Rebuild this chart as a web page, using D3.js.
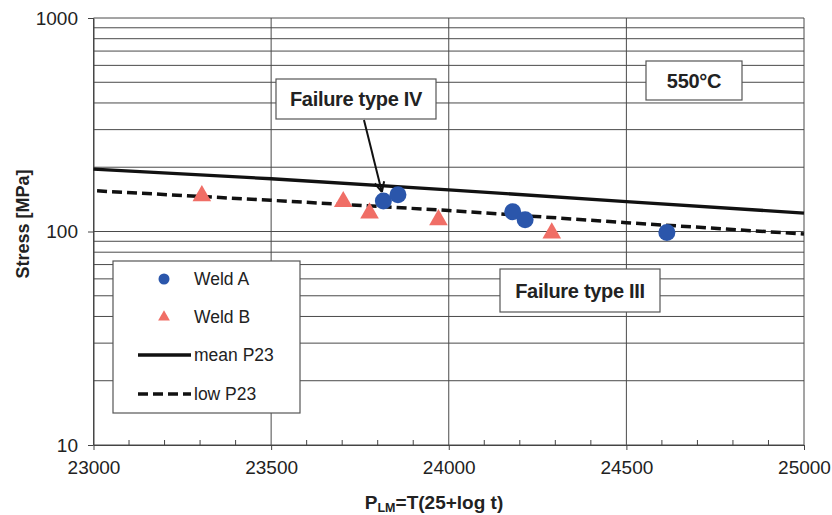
<!DOCTYPE html>
<html>
<head>
<meta charset="utf-8">
<script src="https://cdn.jsdelivr.net/npm/d3@7"></script>
<style>
  body { margin: 0; background: #fff; }
  svg { font-family: "Liberation Sans", Arial, sans-serif; }
  .grid line { stroke: #4a4a4a; stroke-width: 1; }
  .tick text { fill: #222; font-size: 19px; }
</style>
</head>
<body>
<div id="chart"></div>
<script>
// values
const weldA_plm = [23816, 23857, 24180, 24215, 24614]
const weldA_stress = [139, 148.5, 123.6, 113.5, 99]
const weldB_plm = [23305, 23703, 23777, 23971, 24290]
const weldB_stress = [147, 138, 122, 113.5, 98.3]
const line_plm = [23000, 23500, 24000, 24500, 25000]
const mean_p23 = [196, 176.6, 156.8, 138, 122]
const low_plm = [23010, 23500, 24000, 24500, 25000]
const low_p23 = [155, 140, 125.4, 110, 97.3]
const x_ticks = [23000, 23500, 24000, 24500, 25000]
const y_ticks = [10, 100, 1000]

const margin = {top: 18, right: 28, bottom: 70, left: 93.5}
const W = 832, H = 515
let width = W - margin.left - margin.right,
    height = H - margin.top - margin.bottom;

let root = d3.select("#chart")
    .append("svg")
    .attr("width", W)
    .attr("height", H);
let svg = root.append("g")
    .attr("transform", "translate(" + margin.left + "," + margin.top + ")");

let x = d3.scaleLinear().domain([23000, 25000]).range([0, width]);
let y = d3.scaleLog().domain([10, 1000]).range([height, 0]);

// horizontal grid at every log step
let yGrid = [];
[10, 100].forEach(function(d) { for (let k = 1; k <= 9; k++) yGrid.push(d * k) });
yGrid.push(1000);
svg.append("g").attr("class", "grid")
    .selectAll("line").data(yGrid).enter().append("line")
    .attr("x1", 0).attr("x2", width)
    .attr("y1", d => y(d)).attr("y2", d => y(d));

// vertical grid at major x ticks
svg.append("g").attr("class", "grid")
    .selectAll("line").data(x_ticks).enter().append("line")
    .attr("x1", d => x(d)).attr("x2", d => x(d))
    .attr("y1", 0).attr("y2", height);

// minor ticks on bottom axis, pointing up
svg.append("g")
    .selectAll("line").data(d3.range(23100, 25000, 100).filter(d => d % 500 != 0)).enter().append("line")
    .attr("x1", d => x(d)).attr("x2", d => x(d))
    .attr("y1", height).attr("y2", height - 5)
    .attr("stroke", "#444");

svg.append("g")
    .attr("transform", "translate(0," + height + ")")
    .call(d3.axisBottom(x)
        .tickValues(x_ticks)
        .tickFormat(d3.format("d"))
        .tickSizeInner(5)
        .tickSizeOuter(0)
        .tickPadding(11))
    .call(g => g.selectAll("line, path").attr("stroke", "#444"));

svg.append("g")
    .call(d3.axisLeft(y)
        .tickValues(y_ticks)
        .tickFormat(d3.format("d"))
        .tickSizeInner(5.5)
        .tickSizeOuter(0)
        .tickPadding(10))
    .call(g => g.selectAll("line, path").attr("stroke", "#444"));

// lines
let line = d3.line().x(d => x(d[0])).y(d => y(d[1]));
svg.append("path")
    .datum(d3.zip(line_plm, mean_p23))
    .attr("fill", "none").attr("stroke", "#111").attr("stroke-width", 3.3)
    .attr("d", line);
svg.append("path")
    .datum(d3.zip(low_plm, low_p23))
    .attr("fill", "none").attr("stroke", "#111").attr("stroke-width", 3.5)
    .attr("stroke-dasharray", "10,5")
    .attr("d", line);

// markers
const blue = "#2b56ab", red = "#f06e66";
svg.append("g").selectAll("circle")
    .data(d3.zip(weldA_plm, weldA_stress)).enter().append("circle")
    .attr("cx", d => x(d[0])).attr("cy", d => y(d[1]))
    .attr("r", 8.5).attr("fill", blue);
svg.append("g").selectAll("path")
    .data(d3.zip(weldB_plm, weldB_stress)).enter().append("path")
    .attr("transform", d => "translate(" + x(d[0]) + "," + y(d[1]) + ")")
    .attr("d", d3.symbol(d3.symbolTriangle, 150))
    .attr("fill", red);

// annotation boxes (pixel coords of the whole svg)
function box(x0, y0, w, h, label) {
    root.append("rect")
        .attr("x", x0).attr("y", y0).attr("width", w).attr("height", h)
        .attr("fill", "#fff").attr("stroke", "#555").attr("stroke-width", 1.2);
    root.append("text")
        .attr("x", x0 + w / 2).attr("y", y0 + h / 2 + 7)
        .attr("text-anchor", "middle")
        .attr("font-size", 20).attr("font-weight", "bold").attr("fill", "#222")
        .attr("letter-spacing", -0.3)
        .text(label);
}
box(276, 79, 160, 40, "Failure type IV");
box(646, 61, 96, 39, "550°C");
box(500, 269, 160, 43, "Failure type III");

// arrow to Failure type IV points
let tipX = margin.left + x(weldA_plm[0]) - 1.5, tipY = margin.top + y(weldA_stress[0]) - 9;
root.append("line")
    .attr("x1", 364).attr("y1", 120).attr("x2", tipX).attr("y2", tipY)
    .attr("stroke", "#111").attr("stroke-width", 2);
let ang = Math.atan2(tipY - 120, tipX - 364);
[0.45, -0.45].forEach(function(a) {
    root.append("line")
        .attr("x1", tipX).attr("y1", tipY)
        .attr("x2", tipX - 11 * Math.cos(ang + a)).attr("y2", tipY - 11 * Math.sin(ang + a))
        .attr("stroke", "#111").attr("stroke-width", 2);
});

// legend
let lg = root.append("g").attr("transform", "translate(113,261)");
lg.append("rect").attr("width", 187).attr("height", 152)
    .attr("fill", "#fff").attr("stroke", "#555").attr("stroke-width", 1.2);
const legend_labels = ["Weld A", "Weld B", "mean P23", "low P23"];
const rowY = [18, 56, 94, 133];
legend_labels.forEach(function(t, i) {
    lg.append("text").attr("x", 81).attr("y", rowY[i] + 6)
        .attr("font-size", 17.5).attr("fill", "#222").text(t);
});
lg.append("circle").attr("cx", 51).attr("cy", rowY[0]).attr("r", 5.5).attr("fill", blue);
lg.append("path").attr("transform", "translate(51," + rowY[1] + ")")
    .attr("d", d3.symbol(d3.symbolTriangle, 60)).attr("fill", red);
lg.append("line").attr("x1", 25).attr("x2", 78).attr("y1", rowY[2]).attr("y2", rowY[2])
    .attr("stroke", "#111").attr("stroke-width", 3.3);
lg.append("line").attr("x1", 25).attr("x2", 78).attr("y1", rowY[3]).attr("y2", rowY[3])
    .attr("stroke", "#111").attr("stroke-width", 3.5).attr("stroke-dasharray", "10,5");

// axis titles
root.append("text")
    .attr("transform", "translate(29,224) rotate(-90)")
    .attr("text-anchor", "middle")
    .attr("font-size", 18).attr("font-weight", "bold").attr("fill", "#222")
    .text("Stress [MPa]");
let xt = root.append("text")
    .attr("x", 434).attr("y", 509)
    .attr("text-anchor", "middle")
    .attr("font-size", 19).attr("font-weight", "bold").attr("fill", "#222");
xt.append("tspan").text("P");
xt.append("tspan").attr("font-size", 12.5).attr("dy", 3).text("LM");
xt.append("tspan").attr("dy", -3).text("=T(25+log t)");
</script>
</body>
</html>
